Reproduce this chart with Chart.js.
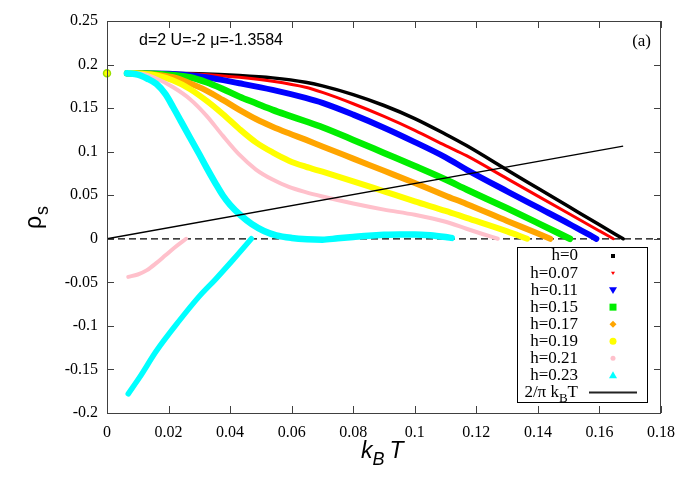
<!DOCTYPE html>
<html lang="en">
<head>
<meta charset="UTF-8">
<title>rho_s vs kBT</title>
<script src="https://cdn.jsdelivr.net/npm/chart.js"></script>
<style>
  html, body { margin: 0; padding: 0; background: #fff; }
</style>
</head>
<body>
<canvas id="rhoChart" width="685" height="480"></canvas>
<script>
// k_B T values and rho_s, one pair of arrays per field h
const tH0   = [0.0065, 0.02, 0.03, 0.043, 0.0538, 0.0645, 0.07, 0.08, 0.09, 0.1, 0.11, 0.1168, 0.13, 0.14, 0.15, 0.16, 0.1677];
const rhoH0 = [0.19, 0.19, 0.1895, 0.1875, 0.1847, 0.1797, 0.1755, 0.1655, 0.153, 0.138, 0.12, 0.107, 0.079, 0.058, 0.037, 0.016, 0];

const tH007   = [0.0065, 0.02, 0.03, 0.043, 0.0538, 0.0645, 0.07, 0.08, 0.09, 0.1, 0.11, 0.1168, 0.13, 0.14, 0.15, 0.16, 0.1645];
const rhoH007 = [0.19, 0.19, 0.189, 0.1854, 0.1808, 0.1739, 0.168, 0.155, 0.1405, 0.1245, 0.107, 0.0954, 0.069, 0.049, 0.029, 0.009, 0];

const tH011   = [0.0065, 0.02, 0.0323, 0.043, 0.0538, 0.0645, 0.07, 0.08, 0.09, 0.1, 0.11, 0.1168, 0.13, 0.14, 0.15, 0.159];
const rhoH011 = [0.19, 0.1895, 0.1854, 0.1785, 0.1709, 0.1617, 0.156, 0.1425, 0.1275, 0.111, 0.0935, 0.0795, 0.0545, 0.036, 0.0175, 0];

const tH015   = [0.0065, 0.015, 0.0269, 0.0323, 0.0376, 0.043, 0.0484, 0.0538, 0.0591, 0.0645, 0.07, 0.08, 0.09, 0.1, 0.11, 0.1168, 0.13, 0.14, 0.1504];
const rhoH015 = [0.19, 0.1895, 0.1854, 0.1797, 0.172, 0.1632, 0.1556, 0.148, 0.1414, 0.1349, 0.128, 0.1135, 0.0985, 0.0835, 0.068, 0.0565, 0.035, 0.018, 0];

const tH017   = [0.0065, 0.012, 0.0215, 0.0269, 0.0323, 0.0376, 0.043, 0.0484, 0.0538, 0.0591, 0.0645, 0.07, 0.08, 0.09, 0.1, 0.11, 0.1168, 0.13, 0.14, 0.144];
const rhoH017 = [0.19, 0.1895, 0.1854, 0.1785, 0.1701, 0.1594, 0.148, 0.1375, 0.1287, 0.1211, 0.1138, 0.106, 0.092, 0.078, 0.064, 0.0495, 0.04, 0.0205, 0.006, 0];

const tH019   = [0.0065, 0.0108, 0.0161, 0.0215, 0.0269, 0.0323, 0.0376, 0.043, 0.0484, 0.0538, 0.0591, 0.0645, 0.07, 0.08, 0.09, 0.1, 0.11, 0.1168, 0.13, 0.1365];
const rhoH019 = [0.19, 0.1895, 0.1874, 0.1816, 0.172, 0.1586, 0.1433, 0.1261, 0.1107, 0.0992, 0.0897, 0.0828, 0.077, 0.066, 0.0545, 0.043, 0.032, 0.024, 0.0085, 0];

const tH021   = [0.0065, 0.0118, 0.0161, 0.0215, 0.0269, 0.0323, 0.0376, 0.043, 0.0484, 0.0538, 0.0591, 0.0645, 0.07, 0.08, 0.09, 0.1, 0.11, 0.1168, 0.122, 0.127];
const rhoH021 = [0.19, 0.1893, 0.184, 0.1739, 0.1605, 0.1414, 0.1184, 0.0965, 0.0795, 0.068, 0.0595, 0.0535, 0.0485, 0.0405, 0.0335, 0.0275, 0.0195, 0.0115, 0.0055, 0];
const tH021low   = [0.0069, 0.01, 0.013, 0.016, 0.019, 0.022, 0.0257];
const rhoH021low = [-0.0437, -0.041, -0.036, -0.028, -0.019, -0.01, 0];

const tH023   = [0.0065, 0.01, 0.013, 0.0161, 0.019, 0.0215, 0.024, 0.0269, 0.03, 0.0323, 0.0352, 0.0376, 0.04, 0.0434, 0.047, 0.051, 0.055, 0.06, 0.065, 0.07, 0.075, 0.08, 0.085, 0.09, 0.095, 0.1, 0.105, 0.11, 0.112];
const rhoH023 = [0.19, 0.1885, 0.184, 0.1776, 0.166, 0.151, 0.135, 0.1165, 0.097, 0.082, 0.064, 0.05, 0.039, 0.027, 0.017, 0.009, 0.004, 0.001, -0.0005, -0.001, 0.0005, 0.002, 0.0035, 0.0045, 0.005, 0.005, 0.004, 0.002, 0.001];
const tH023low   = [0.0069, 0.0106, 0.016, 0.0235, 0.03, 0.0354, 0.041, 0.0469];
const rhoH023low = [-0.178, -0.159, -0.129, -0.094, -0.066, -0.046, -0.024, 0];

// the lone points at T = 0
const tZero   = [0];
const rhoZero = [0.19];

// 2/pi k_B T reference line (end points)
const tLine   = [0, 0.1677];
const rhoLine = [0, 0.1063];

const xTicks = [0, 0.02, 0.04, 0.06, 0.08, 0.1, 0.12, 0.14, 0.16, 0.18];
const yTicks = [-0.2, -0.15, -0.1, -0.05, 0, 0.05, 0.1, 0.15, 0.2, 0.25];

const legendLabels = ['h=0', 'h=0.07', 'h=0.11', 'h=0.15', 'h=0.17', 'h=0.19', 'h=0.21', 'h=0.23'];
const legendColors = ['#000000', '#ff0000', '#0000ff', '#00ee00', '#ffa500', '#ffff00', '#ffc0cb', '#00ffff'];
const legendShapes = ['square', 'triDown', 'triDown', 'square', 'diamond', 'circle', 'circle', 'triUp'];
const legendSizes  = [2, 2, 4, 3.5, 3.5, 3.5, 2.5, 4];

function pts(xs, ys) {
  return xs.map((x, i) => ({ x: x, y: ys[i] }));
}

function curve(label, xs, ys, color, width, order) {
  return {
    label: label,
    data: pts(xs, ys),
    borderColor: color,
    backgroundColor: color,
    borderWidth: width,
    borderCapStyle: 'round',
    pointRadius: 0,
    fill: false,
    cubicInterpolationMode: 'monotone',
    order: order
  };
}

const datasets = [
  {
    label: 'zero',
    data: [{ x: 0, y: 0 }, { x: 0.18, y: 0 }],
    borderColor: '#000',
    borderWidth: 1.3,
    borderDash: [7, 4],
    pointRadius: 0,
    order: 20
  },
  curve('h=0', tH0, rhoH0, legendColors[0], 3.5, 12),
  curve('h=0.07', tH007, rhoH007, legendColors[1], 3, 11),
  curve('h=0.11', tH011, rhoH011, legendColors[2], 6, 10),
  curve('h=0.15', tH015, rhoH015, legendColors[3], 6.5, 9),
  curve('h=0.17', tH017, rhoH017, legendColors[4], 6, 8),
  curve('h=0.19', tH019, rhoH019, legendColors[5], 6, 7),
  curve('h=0.21', tH021, rhoH021, legendColors[6], 4, 6),
  curve('h=0.21 low', tH021low, rhoH021low, legendColors[6], 4, 6),
  curve('h=0.23', tH023, rhoH023, legendColors[7], 6.5, 5),
  curve('h=0.23 low', tH023low, rhoH023low, legendColors[7], 5.5, 5),
  {
    label: 'T=0',
    data: pts(tZero, rhoZero),
    showLine: false,
    pointRadius: 3.5,
    pointBackgroundColor: '#ffff00',
    pointBorderColor: '#9be000',
    pointBorderWidth: 1.5,
    clip: false,
    order: 4
  },
  {
    label: '2/pi kBT',
    data: pts(tLine, rhoLine),
    borderColor: '#000',
    borderWidth: 1.3,
    pointRadius: 0,
    order: 1
  }
];

function drawShape(ctx, shape, x, y, r, color) {
  ctx.fillStyle = color;
  ctx.beginPath();
  if (shape === 'square') {
    ctx.rect(x - r, y - r, 2 * r, 2 * r);
  } else if (shape === 'circle') {
    ctx.arc(x, y, r, 0, Math.PI * 2);
  } else if (shape === 'diamond') {
    ctx.moveTo(x, y - r); ctx.lineTo(x + r, y); ctx.lineTo(x, y + r); ctx.lineTo(x - r, y);
  } else if (shape === 'triDown') {
    ctx.moveTo(x - r, y - r * 0.7); ctx.lineTo(x + r, y - r * 0.7); ctx.lineTo(x, y + r);
  } else if (shape === 'triUp') {
    ctx.moveTo(x - r, y + r * 0.7); ctx.lineTo(x + r, y + r * 0.7); ctx.lineTo(x, y - r);
  }
  ctx.closePath();
  ctx.fill();
}

// frame, inward ticks on all four sides, axis titles, labels and boxed legend
const decorPlugin = {
  id: 'decor',
  afterDraw(chart) {
    const ctx = chart.ctx;
    const a = chart.chartArea;
    const xs = chart.scales.x, ys = chart.scales.y;
    const tl = 7;
    ctx.save();
    ctx.strokeStyle = '#404040';
    ctx.lineWidth = 1;
    ctx.strokeRect(a.left + 0.5, a.top + 0.5, a.right - a.left - 1, a.bottom - a.top);
    ctx.beginPath();
    xTicks.forEach(v => {
      const px = Math.round(xs.getPixelForValue(v)) + 0.5;
      ctx.moveTo(px, a.bottom); ctx.lineTo(px, a.bottom - tl);
      ctx.moveTo(px, a.top); ctx.lineTo(px, a.top + tl);
    });
    yTicks.forEach(v => {
      const py = Math.round(ys.getPixelForValue(v)) + 0.5;
      ctx.moveTo(a.left, py); ctx.lineTo(a.left + tl, py);
      ctx.moveTo(a.right, py); ctx.lineTo(a.right - tl, py);
    });
    ctx.stroke();

    ctx.fillStyle = '#000';
    ctx.textBaseline = 'alphabetic';
    // annotation and panel tag
    ctx.font = '16px "Liberation Sans", Arial, sans-serif';
    ctx.textAlign = 'left';
    ctx.fillText('d=2 U=-2 \u03bc=-1.3584', a.left + 32, a.top + 24);
    ctx.font = '17px "Liberation Serif", "Times New Roman", serif';
    ctx.textAlign = 'right';
    ctx.fillText('(a)', a.right - 10, a.top + 25);

    // x axis title k_B T
    ctx.textAlign = 'left';
    ctx.font = 'italic 23px "Liberation Sans", Arial, sans-serif';
    let x0 = 361, yb = 458;
    ctx.fillText('k', x0, yb);
    x0 += ctx.measureText('k').width;
    ctx.font = 'italic 18px "Liberation Sans", Arial, sans-serif';
    ctx.fillText('B', x0, yb + 7);
    x0 += ctx.measureText('B ').width;
    ctx.font = 'italic 23px "Liberation Sans", Arial, sans-serif';
    ctx.fillText('T', x0, yb);

    // y axis title rho_s
    ctx.save();
    ctx.translate(41, 229);
    ctx.rotate(-Math.PI / 2);
    ctx.font = '23px "Liberation Sans", Arial, sans-serif';
    ctx.fillText('\u03c1', 0, 0);
    const rw = ctx.measureText('\u03c1').width;
    ctx.font = '18px "Liberation Sans", Arial, sans-serif';
    ctx.fillText('s', rw + 1, 7);
    ctx.restore();

    // legend box
    const bx = a.right - 144, by = a.bottom - 166, bw = 130, bh = 155;
    ctx.fillStyle = '#fff';
    ctx.fillRect(bx, by, bw, bh);
    ctx.strokeStyle = '#000';
    ctx.strokeRect(bx + 0.5, by + 0.5, bw, bh);
    const rowH = 17.05, textR = bx + 61, symX = bx + 96;
    ctx.font = '17px "Liberation Serif", "Times New Roman", serif';
    ctx.textAlign = 'right';
    ctx.textBaseline = 'middle';
    legendLabels.forEach((lab, i) => {
      const ry = by + 9 + i * rowH;
      ctx.fillStyle = '#000';
      ctx.fillText(lab, textR, ry);
      drawShape(ctx, legendShapes[i], symX, ry, legendSizes[i], legendColors[i]);
    });
    const ly = by + 9 + 8 * rowH;
    ctx.fillStyle = '#000';
    ctx.textAlign = 'left';
    ctx.textBaseline = 'alphabetic';
    const p1 = '2/\u03c0 k', p2 = 'B', p3 = 'T';
    ctx.font = '17px "Liberation Serif", "Times New Roman", serif';
    const w1 = ctx.measureText(p1).width, w3 = ctx.measureText(p3).width;
    ctx.font = '13px "Liberation Serif", "Times New Roman", serif';
    const w2 = ctx.measureText(p2).width;
    let lx = textR - (w1 + w2 + w3);
    ctx.font = '17px "Liberation Serif", "Times New Roman", serif';
    ctx.fillText(p1, lx, ly + 5);
    ctx.font = '13px "Liberation Serif", "Times New Roman", serif';
    ctx.fillText(p2, lx + w1, ly + 10);
    ctx.font = '17px "Liberation Serif", "Times New Roman", serif';
    ctx.fillText(p3, lx + w1 + w2, ly + 5);
    ctx.strokeStyle = '#222';
    ctx.lineWidth = 2;
    ctx.beginPath();
    ctx.moveTo(bx + 72, ly); ctx.lineTo(bx + 120, ly);
    ctx.stroke();
    ctx.restore();
  }
};

const tickFont = { family: '"Liberation Serif", "Times New Roman", serif', size: 16 };

new Chart(document.getElementById('rhoChart'), {
  type: 'line',
  data: { datasets: datasets },
  options: {
    responsive: false,
    animation: false,
    layout: { padding: { left: 0, right: 20, top: 21, bottom: 0 } },
    plugins: {
      legend: { display: false },
      tooltip: { enabled: false }
    },
    scales: {
      x: {
        type: 'linear',
        min: 0,
        max: 0.18,
        afterBuildTicks: s => { s.ticks = xTicks.map(v => ({ value: v })); },
        afterFit: s => { s.height = 67; },
        grid: { display: false, drawTicks: false },
        border: { display: false },
        ticks: {
          padding: 10,
          color: '#000',
          font: tickFont,
          maxRotation: 0,
          autoSkip: false,
          callback: v => String(+v.toFixed(2))
        }
      },
      y: {
        type: 'linear',
        min: -0.2,
        max: 0.25,
        afterBuildTicks: s => { s.ticks = yTicks.map(v => ({ value: v })); },
        afterFit: s => { s.width = 107; },
        grid: { display: false, drawTicks: false },
        border: { display: false },
        ticks: {
          padding: 9,
          color: '#000',
          font: tickFont,
          autoSkip: false,
          callback: v => String(+v.toFixed(2))
        }
      }
    }
  },
  plugins: [decorPlugin]
});
</script>
</body>
</html>
